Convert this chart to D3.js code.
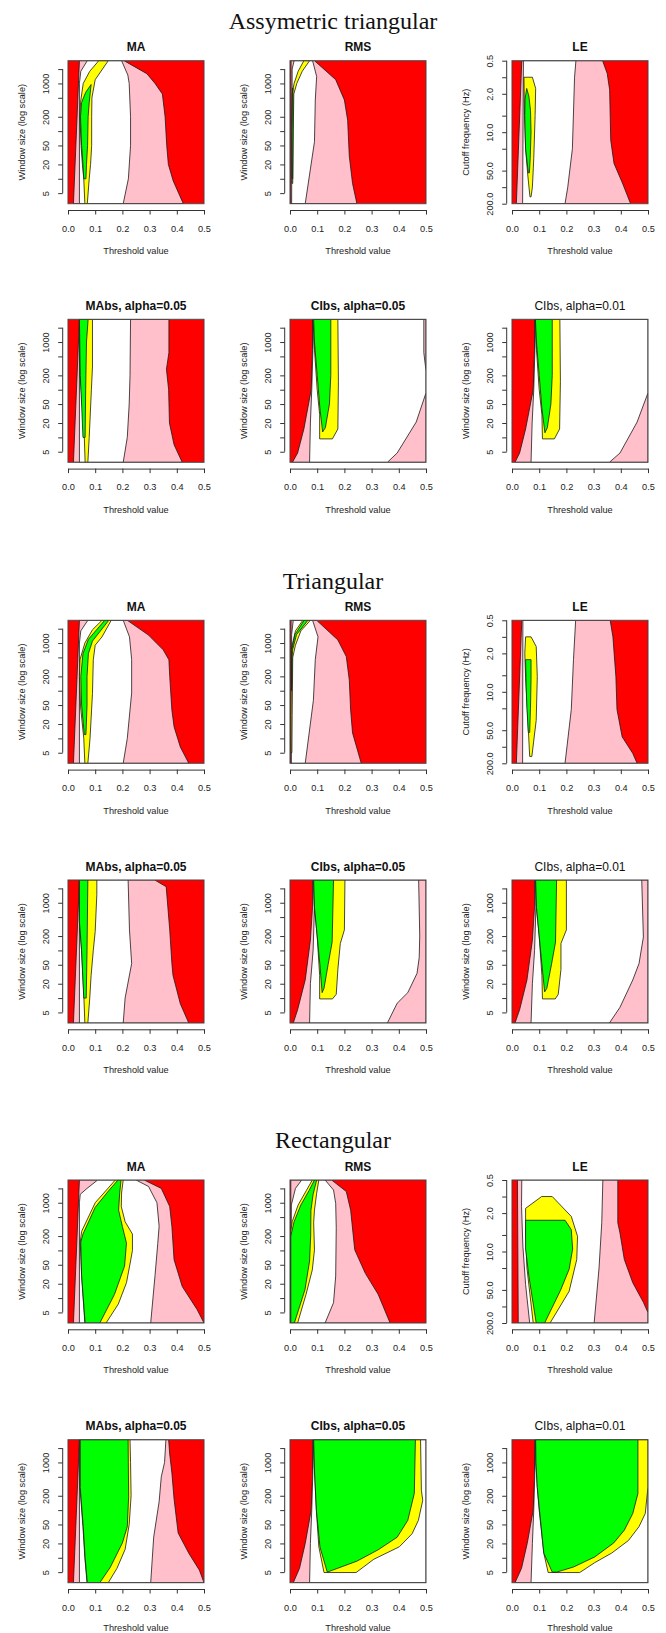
<!DOCTYPE html>
<html>
<head>
<meta charset="utf-8">
<script src="https://cdn.jsdelivr.net/npm/d3@7"></script>
<style>
  body { margin: 0; background: #fff; }
  svg { display: block; }
</style>
</head>
<body>
<svg id="chart"></svg>
<script>
// Performance regions over (threshold, window size / cutoff frequency).
// Level codes: 0 = red (background), 1 = pink, 2 = white, 3 = yellow, 4 = green.
// Each region: [level, left boundary (top -> bottom), right boundary (top -> bottom)],
// points are [threshold, window size] or [threshold, cutoff frequency in Hz].

const sectionTitles = ["Assymetric triangular", "Triangular", "Rectangular"];
const panelTitlesTop = ["MA", "RMS", "LE"];
const panelTitlesBottom = ["MAbs, alpha=0.05", "CIbs, alpha=0.05", "CIbs, alpha=0.01"];
const titleBold = [true, true, false];

const thresholdTicks = [0, 0.1, 0.2, 0.3, 0.4, 0.5];
const windowTicks = [5, 10, 20, 50, 100, 200, 500, 1000, 2000];
const windowLabels = [5, 20, 50, 200, 1000];
const freqTicks = [0.5, 1, 2, 5, 10, 20, 50, 100, 200];
const freqLabels = [0.5, 2, 10, 50, 200];
const windowDomain = [3, 3000];
const freqDomain = [0.5, 200];

// ---- Assymetric triangular ----
const asymMA = [
  [1, [[0.042,3000],[0.02,3]],
      [[0.206,3000],[0.29,1600],[0.32,1000],[0.347,600],[0.357,200],[0.363,50],[0.369,20],[0.387,9],[0.424,3]]],
  [2, [[0.071,3000],[0.047,1800],[0.042,1000],[0.042,3]],
      [[0.197,3000],[0.22,1500],[0.225,1000],[0.23,200],[0.23,50],[0.222,10],[0.203,3]]],
  [3, [[0.113,3000],[0.08,1800],[0.056,1000],[0.046,400],[0.044,200],[0.048,50],[0.053,20],[0.058,10],[0.062,3]],
      [[0.148,3000],[0.1,1200],[0.088,500],[0.087,200],[0.087,50],[0.083,20],[0.078,10],[0.071,3]]],
  [4, [[0.085,950],[0.065,650],[0.05,400],[0.046,200],[0.05,50],[0.055,20],[0.058,10]],
      [[0.085,950],[0.078,400],[0.074,200],[0.072,50],[0.068,20],[0.066,10]]]
];
const asymRMS = [
  [1, [[0.004,3000],[0.003,3]],
      [[0.09,3000],[0.168,1200],[0.2,450],[0.212,170],[0.218,30],[0.23,8],[0.246,3]]],
  [2, [[0.015,3000],[0.008,2000],[0.006,3]],
      [[0.083,3000],[0.098,1400],[0.093,450],[0.09,60],[0.056,3]]],
  [3, [[0.051,3000],[0.03,1800],[0.015,1000],[0.008,600],[0.007,100],[0.007,8]],
      [[0.072,3000],[0.045,1800],[0.025,1000],[0.014,600],[0.012,100],[0.01,8]]],
  [4, [[0.009,800],[0.007,100],[0.008,10]],
      [[0.011,800],[0.011,100],[0.01,10]]]
];
const asymLE = [
  [1, [[0.036,0.5],[0.016,200]],
      [[0.333,0.5],[0.35,0.85],[0.359,1.7],[0.363,14],[0.375,37],[0.406,84],[0.436,200]]],
  [2, [[0.042,0.5],[0.039,200]],
      [[0.235,0.5],[0.23,1],[0.222,20],[0.205,100],[0.195,200]]],
  [3, [[0.044,1.0],[0.046,5],[0.05,20],[0.058,60],[0.066,150]],
      [[0.075,1.0],[0.087,1.6],[0.085,5],[0.08,30],[0.075,100],[0.07,150]]],
  [4, [[0.054,1.6],[0.048,2.5],[0.047,5],[0.05,20],[0.06,55]],
      [[0.054,1.6],[0.062,2.2],[0.068,4],[0.07,10],[0.067,30],[0.064,55]]]
];
const asymMAbs = [
  [1, [[0.042,3000],[0.02,3]],
      [[0.371,3000],[0.371,600],[0.362,270],[0.37,100],[0.373,20],[0.39,7],[0.42,3]]],
  [2, [[0.042,3000],[0.042,3]],
      [[0.23,3000],[0.228,200],[0.225,50],[0.218,10],[0.203,3]]],
  [3, [[0.042,3000],[0.045,200],[0.055,30],[0.06,10],[0.063,3]],
      [[0.09,3000],[0.09,300],[0.086,100],[0.078,10],[0.073,3]]],
  [4, [[0.042,3000],[0.045,200],[0.05,50],[0.055,10]],
      [[0.074,3000],[0.068,1000],[0.065,100],[0.063,10]]]
];
const asymCI05 = [
  [1, [[0.083,3000],[0.083,700],[0.078,100],[0.051,15],[0.028,4.7],[0.009,3]],
      [[0.5,3000],[0.5,3]]],
  [2, [[0.085,3000],[0.085,1000],[0.08,100],[0.075,20],[0.072,3]],
      [[0.492,3000],[0.492,600],[0.5,250],[0.5,86],[0.464,21],[0.394,4.7],[0.358,3]]],
  [3, [[0.085,3000],[0.09,700],[0.1,100],[0.109,30],[0.109,9.3]],
      [[0.176,3000],[0.178,150],[0.176,15],[0.156,9.3]]],
  [4, [[0.087,3000],[0.09,1000],[0.1,200],[0.11,40],[0.12,13]],
      [[0.15,3000],[0.15,200],[0.145,50],[0.13,16],[0.12,13]]]
];
const asymCI01 = [
  [1, [[0.083,3000],[0.083,700],[0.078,100],[0.05,15],[0.028,4.7],[0.011,3]],
      [[0.5,3000],[0.5,3]]],
  [2, [[0.086,3000],[0.085,1000],[0.08,100],[0.074,20],[0.07,3]],
      [[0.5,3000],[0.5,86],[0.46,21],[0.397,4.7],[0.358,3]]],
  [3, [[0.086,3000],[0.09,700],[0.1,100],[0.11,30],[0.112,9.3]],
      [[0.176,3000],[0.178,150],[0.175,15],[0.156,9.3]]],
  [4, [[0.086,3000],[0.09,1000],[0.1,200],[0.11,40],[0.121,12.5]],
      [[0.148,3000],[0.148,200],[0.143,50],[0.13,16],[0.121,12.5]]]
];

// ---- Triangular ----
const triMA = [
  [1, [[0.042,3000],[0.02,3]],
      [[0.218,3000],[0.296,1470],[0.35,720],[0.371,445],[0.374,200],[0.382,39],[0.39,17.5],[0.413,6.6],[0.444,3]]],
  [2, [[0.073,3000],[0.047,1800],[0.042,1000],[0.042,3]],
      [[0.203,3000],[0.226,1350],[0.234,450],[0.234,90],[0.218,10],[0.203,3]]],
  [3, [[0.125,3000],[0.09,1900],[0.062,1000],[0.044,445],[0.042,200],[0.046,47],[0.058,10],[0.062,3]],
      [[0.159,3000],[0.125,1350],[0.1,900],[0.093,445],[0.09,88],[0.081,10],[0.073,3]]],
  [4, [[0.135,3000],[0.075,1200],[0.055,600],[0.047,200],[0.05,50],[0.06,12]],
      [[0.15,3000],[0.09,1100],[0.075,600],[0.07,200],[0.07,50],[0.066,12]]]
];
const triRMS = [
  [1, [[0.004,3000],[0.003,3]],
      [[0.098,3000],[0.176,1160],[0.207,520],[0.218,168],[0.223,39],[0.23,13],[0.262,3]]],
  [2, [[0.012,3000],[0.006,1500],[0.005,3]],
      [[0.083,3000],[0.103,1350],[0.093,450],[0.086,63],[0.056,3]]],
  [3, [[0.047,3000],[0.02,1800],[0.008,900],[0.005,500],[0.004,30],[0.004,5]],
      [[0.075,3000],[0.04,1800],[0.02,900],[0.01,500],[0.008,30],[0.007,5]]],
  [4, [[0.052,3000],[0.018,1500],[0.006,700],[0.005,100]],
      [[0.066,3000],[0.024,1500],[0.009,700],[0.006,100]]]
];
const triLE = [
  [1, [[0.036,0.5],[0.016,200]],
      [[0.361,0.5],[0.371,1],[0.382,5.3],[0.386,21],[0.405,66],[0.444,132],[0.46,200]]],
  [2, [[0.04,0.5],[0.039,200]],
      [[0.234,0.5],[0.226,2.6],[0.218,21],[0.195,200]]],
  [3, [[0.05,1.0],[0.047,2],[0.05,5.5],[0.058,30],[0.065,150]],
      [[0.07,1.0],[0.089,1.5],[0.093,5.3],[0.089,33],[0.073,150]]],
  [4, [[0.05,2.6],[0.052,8],[0.055,20],[0.06,55]],
      [[0.07,2.6],[0.07,6],[0.068,20],[0.065,55]]]
];
const triMAbs = [
  [1, [[0.042,3000],[0.02,3]],
      [[0.319,3000],[0.361,2170],[0.374,270],[0.382,53],[0.386,30],[0.413,7.6],[0.444,3]]],
  [2, [[0.042,3000],[0.042,3]],
      [[0.221,3000],[0.226,270],[0.234,53],[0.21,10],[0.203,3]]],
  [3, [[0.042,3000],[0.042,400],[0.05,100],[0.058,12],[0.062,3]],
      [[0.106,3000],[0.106,1500],[0.1,250],[0.093,100],[0.085,30],[0.08,10],[0.073,3]]],
  [4, [[0.042,3000],[0.042,400],[0.05,100],[0.058,10]],
      [[0.073,3000],[0.07,100],[0.067,10]]]
];
const triCI05 = [
  [1, [[0.083,3000],[0.083,830],[0.075,164],[0.056,24],[0.028,5.7],[0.012,3]],
      [[0.5,3000],[0.5,3]]],
  [2, [[0.087,3000],[0.09,800],[0.085,100],[0.075,20],[0.072,3]],
      [[0.473,3000],[0.477,200],[0.475,70],[0.467,33],[0.433,13],[0.394,7.8],[0.358,3]]],
  [3, [[0.087,3000],[0.09,800],[0.1,200],[0.109,30],[0.109,9.6]],
      [[0.202,3000],[0.2,270],[0.185,140],[0.176,40],[0.17,12],[0.156,9.6]]],
  [4, [[0.087,3000],[0.09,800],[0.1,200],[0.11,50],[0.118,13]],
      [[0.16,3000],[0.155,150],[0.14,50],[0.125,16],[0.118,13]]]
];
const triCI01 = [
  [1, [[0.083,3000],[0.083,830],[0.075,164],[0.055,24],[0.028,5.7],[0.011,3]],
      [[0.5,3000],[0.5,3]]],
  [2, [[0.087,3000],[0.088,800],[0.083,100],[0.075,20],[0.07,3]],
      [[0.477,3000],[0.483,190],[0.467,53],[0.444,24],[0.397,6.4],[0.358,3]]],
  [3, [[0.087,3000],[0.09,800],[0.1,200],[0.11,30],[0.112,9.6]],
      [[0.2,3000],[0.2,270],[0.18,140],[0.18,40],[0.17,12],[0.159,9.6]]],
  [4, [[0.087,3000],[0.09,800],[0.1,200],[0.11,50],[0.12,13.5]],
      [[0.164,3000],[0.16,150],[0.145,50],[0.128,16],[0.12,13.5]]]
];

// ---- Rectangular ----
const rectMA = [
  [1, [[0.042,3000],[0.02,3]],
      [[0.28,3000],[0.343,2000],[0.374,830],[0.382,316],[0.39,64],[0.42,17.5],[0.475,5.7],[0.5,3]]],
  [2, [[0.109,3000],[0.07,2000],[0.045,1500],[0.042,1000],[0.042,3]],
      [[0.25,3000],[0.296,2200],[0.327,1000],[0.335,320],[0.33,140],[0.32,30],[0.304,3]]],
  [3, [[0.174,3000],[0.1,1000],[0.05,250],[0.045,150],[0.05,30],[0.062,3]],
      [[0.203,3000],[0.197,1600],[0.196,830],[0.21,400],[0.237,220],[0.237,100],[0.23,60],[0.215,21],[0.185,7.5],[0.14,3]]],
  [4, [[0.184,3000],[0.15,1800],[0.1,800],[0.055,220],[0.047,150],[0.05,30],[0.063,3]],
      [[0.195,3000],[0.19,1580],[0.186,700],[0.2,316],[0.215,142],[0.208,47],[0.171,12],[0.117,3]]]
];
const rectRMS = [
  [1, [[0.003,3000],[0.003,3]],
      [[0.153,3000],[0.207,1720],[0.223,700],[0.238,103],[0.277,33],[0.324,12],[0.368,3]]],
  [2, [[0.043,3000],[0.02,2000],[0.005,900],[0.003,3]],
      [[0.129,3000],[0.16,1850],[0.168,970],[0.17,300],[0.168,29],[0.16,8],[0.129,3]]],
  [3, [[0.082,3000],[0.06,1800],[0.03,900],[0.008,400],[0.003,250],[0.003,3]],
      [[0.106,3000],[0.098,1580],[0.09,700],[0.087,380],[0.09,103],[0.082,39],[0.059,12],[0.028,3]]],
  [4, [[0.09,3000],[0.07,1800],[0.04,900],[0.015,400],[0.003,200],[0.003,3]],
      [[0.098,3000],[0.085,1500],[0.077,700],[0.076,200],[0.072,60],[0.055,15],[0.016,3]]]
];
const rectLE = [
  [1, [[0.02,0.5],[0.023,200]],
      [[0.389,0.5],[0.389,3],[0.397,4.6],[0.413,14],[0.444,37],[0.483,84],[0.5,130],[0.5,200]]],
  [2, [[0.036,0.5],[0.035,1.5],[0.04,8],[0.05,40],[0.065,200]],
      [[0.334,0.5],[0.33,3],[0.32,20],[0.302,200]]],
  [3, [[0.109,1.0],[0.05,1.64],[0.05,4.6],[0.055,20],[0.078,200]],
      [[0.148,1.0],[0.218,2.3],[0.241,5.3],[0.238,14],[0.21,53],[0.14,200]]],
  [4, [[0.05,2.7],[0.05,9],[0.062,28],[0.089,200]],
      [[0.195,2.7],[0.218,4],[0.223,9],[0.21,21],[0.179,50],[0.12,200]]]
];
const rectMAbs = [
  [1, [[0.042,3000],[0.02,3]],
      [[0.37,3000],[0.374,1500],[0.382,600],[0.39,170],[0.405,33],[0.444,12.5],[0.483,5.5],[0.5,3]]],
  [2, [[0.042,3000],[0.042,3]],
      [[0.36,3000],[0.355,1000],[0.343,500],[0.335,150],[0.315,27],[0.304,3]]],
  [3, [[0.044,3000],[0.044,300],[0.055,45],[0.062,10],[0.07,3]],
      [[0.228,3000],[0.23,1000],[0.232,200],[0.225,50],[0.21,15],[0.18,6],[0.148,3]]],
  [4, [[0.045,3000],[0.045,300],[0.056,45],[0.063,10],[0.071,3]],
      [[0.221,3000],[0.223,190],[0.218,45],[0.2,20.5],[0.156,6.4],[0.117,3]]]
];
const rectCI05 = [
  [1, [[0.083,3000],[0.083,500],[0.078,100],[0.056,20],[0.035,6],[0.012,3]],
      [[0.5,3000],[0.5,3]]],
  [2, [[0.087,3000],[0.085,1000],[0.08,100],[0.075,20],[0.072,3]],
      [[0.5,3000],[0.5,3]]],
  [3, [[0.087,3000],[0.09,700],[0.097,100],[0.106,17],[0.125,4.9]],
      [[0.48,3000],[0.483,260],[0.488,160],[0.472,61],[0.449,32],[0.402,17],[0.308,9.3],[0.243,4.9]]],
  [4, [[0.087,3000],[0.09,700],[0.097,100],[0.11,17],[0.137,5]],
      [[0.461,3000],[0.457,224],[0.433,61],[0.394,27],[0.324,14.7],[0.246,8.5],[0.137,5]]]
];
const rectCI01 = [
  [1, [[0.083,3000],[0.083,500],[0.078,100],[0.056,20],[0.035,6],[0.011,3]],
      [[0.5,3000],[0.5,3]]],
  [2, [[0.087,3000],[0.085,1000],[0.08,100],[0.075,20],[0.07,3]],
      [[0.5,3000],[0.5,3]]],
  [3, [[0.087,3000],[0.088,1000],[0.093,300],[0.1,100],[0.117,12.5],[0.133,4.9]],
      [[0.5,3000],[0.5,310],[0.49,85],[0.467,45],[0.428,23],[0.366,12.5],[0.304,7.9],[0.249,4.9]]],
  [4, [[0.087,3000],[0.088,1000],[0.093,300],[0.101,100],[0.117,12.5],[0.148,5]],
      [[0.463,3000],[0.463,224],[0.444,85],[0.413,38],[0.374,20.5],[0.304,10.4],[0.226,6.4],[0.164,5]]]
];

// Grid of panels: rows (two per section) x three columns
const panelGrid = [
  [asymMA, asymRMS, asymLE],
  [asymMAbs, asymCI05, asymCI01],
  [triMA, triRMS, triLE],
  [triMAbs, triCI05, triCI01],
  [rectMA, rectRMS, rectLE],
  [rectMAbs, rectCI05, rectCI01]
];

// ---- layout ----
const W = 666, H = 1633;
const levelFill = ["#ff0000", "#ffc0cb", "#ffffff", "#ffff00", "#00ff00"];
const colX = [0, 222, 444];
const plotDX = 68, plotW = 136, plotH = 143;
const rowTop = [60.7, 319.3, 620.3, 880, 1180, 1439.7];
const sectionBaseline = [29.3, 588.5, 1148];
const sans = "'Liberation Sans', Arial, Helvetica, sans-serif";
const serif = "'Liberation Serif', 'Times New Roman', serif";
const axisFont = 9.2, tickFont = 9.2, titleFont = 12;

const svg = d3.select("#chart").attr("width", W).attr("height", H)
  .attr("viewBox", `0 0 ${W} ${H}`);
svg.append("rect").attr("width", W).attr("height", H).attr("fill", "#fff");

sectionTitles.forEach((t, i) => {
  svg.append("text")
    .attr("x", W / 2).attr("y", sectionBaseline[i])
    .attr("text-anchor", "middle")
    .attr("font-family", serif).attr("font-size", 24)
    .attr("fill", "#111")
    .text(t);
});

const x = d3.scaleLinear().domain([0, 0.5]).range([0, plotW]);

panelGrid.forEach((row, r) => {
  row.forEach((layers, c) => {
    const isFreq = (r % 2 === 0) && c === 2;
    const y = isFreq
      ? d3.scaleLog().domain(freqDomain).range([0, plotH])
      : d3.scaleLog().domain(windowDomain).range([plotH, 0]);
    const title = (r % 2 === 0) ? panelTitlesTop[c] : panelTitlesBottom[c];
    const bold = (r % 2 === 0) ? true : titleBold[c];

    const g = svg.append("g")
      .attr("transform", `translate(${colX[c] + plotDX},${rowTop[r]})`);

    const clipId = `clip-${r}-${c}`;
    g.append("clipPath").attr("id", clipId)
      .append("rect").attr("width", plotW).attr("height", plotH);

    const body = g.append("g").attr("clip-path", `url(#${clipId})`);
    body.append("rect").attr("width", plotW).attr("height", plotH)
      .attr("fill", levelFill[0]);

    const line = d3.line().x(d => x(d[0])).y(d => y(d[1]));
    layers.forEach(([level, left, right]) => {
      const ring = left.concat(right.slice().reverse());
      body.append("path")
        .attr("d", line(ring) + "Z")
        .attr("fill", levelFill[level])
        .attr("stroke", "#1a1a1a")
        .attr("stroke-width", 0.8)
        .attr("stroke-linejoin", "round");
    });

    // plot frame
    g.append("rect").attr("width", plotW).attr("height", plotH)
      .attr("fill", "none").attr("stroke", "#444").attr("stroke-width", 1);

    // title
    g.append("text")
      .attr("x", plotW / 2).attr("y", -9.5)
      .attr("text-anchor", "middle")
      .attr("font-family", sans).attr("font-size", titleFont)
      .attr("font-weight", bold ? "bold" : "normal")
      .attr("fill", "#111")
      .text(title);

    // x axis
    const xAxis = g.append("g")
      .attr("transform", `translate(0,${plotH + 6.3})`)
      .call(d3.axisBottom(x).tickValues(thresholdTicks)
        .tickFormat(d3.format(".1f")).tickSize(4.5).tickSizeOuter(0).tickPadding(10.6));
    xAxis.select(".domain").attr("stroke", "#333");
    xAxis.selectAll(".tick line").attr("stroke", "#333");
    xAxis.selectAll("text").attr("font-family", sans).attr("font-size", tickFont).attr("fill", "#222");

    // keep the last row's axis title inside the page
    const labelY = Math.min(plotH + 50.3, H - rowTop[r] - 2.4);
    g.append("text")
      .attr("x", plotW / 2).attr("y", labelY)
      .attr("text-anchor", "middle")
      .attr("font-family", sans).attr("font-size", axisFont)
      .attr("fill", "#222")
      .text("Threshold value");

    // y axis
    const ticks = isFreq ? freqTicks : windowTicks;
    const labelled = isFreq ? freqLabels : windowLabels;
    const fmt = isFreq ? d3.format(".1f") : d3.format("d");
    const yAxisG = g.append("g").attr("transform", "translate(-5.3,0)");
    yAxisG.call(d3.axisLeft(y).tickValues(ticks)
      .tickFormat(d => labelled.includes(d) ? fmt(d) : "")
      .tickSize(4.5).tickSizeOuter(0).tickPadding(8.9));
    yAxisG.select(".domain").remove();
    yAxisG.append("line")
      .attr("x1", 0).attr("x2", 0)
      .attr("y1", y(ticks[0])).attr("y2", y(ticks[ticks.length - 1]))
      .attr("stroke", "#333");
    yAxisG.selectAll(".tick line").attr("stroke", "#333");
    yAxisG.selectAll(".tick text")
      .attr("font-family", sans).attr("font-size", tickFont).attr("fill", "#222")
      .attr("dy", null).attr("x", 0).attr("y", 0)
      .attr("text-anchor", "middle")
      .attr("transform", "translate(-13.4,0) rotate(-90)");

    g.append("text")
      .attr("transform", `translate(${24.8 - plotDX},${plotH / 2}) rotate(-90)`)
      .attr("text-anchor", "middle")
      .attr("font-family", sans).attr("font-size", axisFont)
      .attr("fill", "#222")
      .text(isFreq ? "Cutoff frequency (Hz)" : "Window size (log scale)");
  });
});
</script>
</body>
</html>
